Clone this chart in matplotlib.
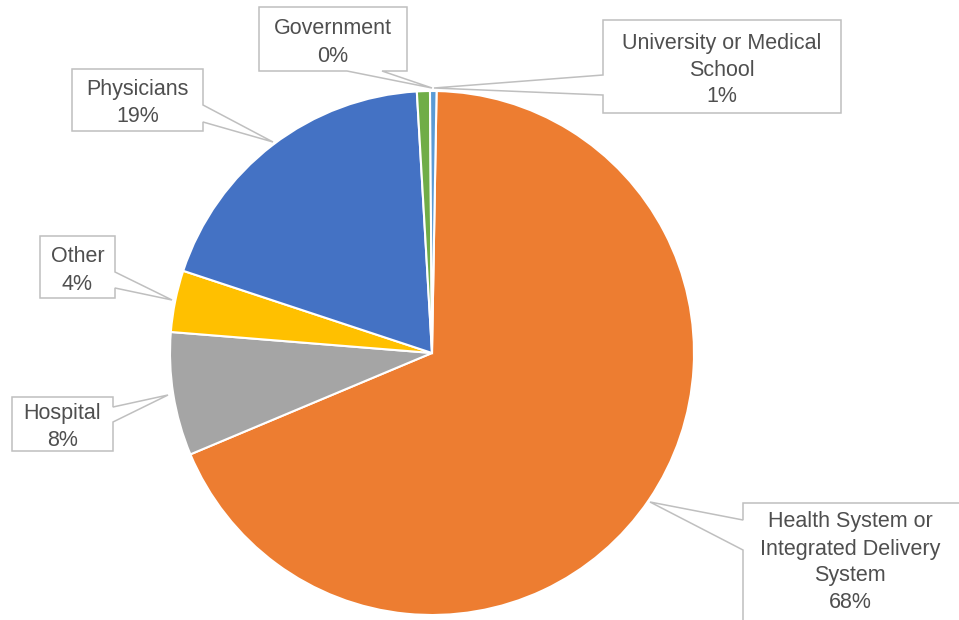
import matplotlib
matplotlib.use('Agg')
import matplotlib.pyplot as plt
from matplotlib.patches import Polygon

### DATA ###
labels = ['Health System or\nIntegrated Delivery\nSystem', 'Hospital', 'Other',
          'Physicians', 'University or Medical\nSchool', 'Government']
shares = [68.4, 7.6, 3.8, 19.0, 0.8, 0.4]
colors = ['#ED7D31', '#A5A5A5', '#FFC000', '#4472C4', '#70AD47', '#5B9BD5']

### LAYOUT (pixel coords, y from top) ###
W, H = 959, 620
CX, CY, R = 432, 353, 262
# box (x0, y0, x1, y1), wedge side, wedge span, tip
callouts = {
    'Health System or\nIntegrated Delivery\nSystem': ((743, 503, 964, 628), 'left', (520, 550), (650, 502)),
    'Hospital': ((12, 397, 113, 451), 'right', (407, 422), (168, 395)),
    'Other': ((40, 236, 115, 298), 'right', (272, 288), (172, 300)),
    'Physicians': ((72, 69, 203, 131), 'right', (105, 122), (273, 142)),
    'University or Medical\nSchool': ((603, 20, 841, 113), 'left', (75, 95), (434, 88)),
    'Government': ((259, 7, 407, 71), 'bottom', (347, 382), (432, 88)),
}
text_centers = {
    'Health System or\nIntegrated Delivery\nSystem': (850, 559),
}


def fy(y):
    # pixel y (top-down) -> data y (bottom-up)
    return H - y


def callout_poly(box, side, span, tip):
    x0, y0, x1, y1 = box
    a, b = span
    if side == 'right':
        pts = [(x0, y0), (x1, y0), (x1, a), tip, (x1, b), (x1, y1), (x0, y1)]
    elif side == 'left':
        pts = [(x0, y0), (x1, y0), (x1, y1), (x0, y1), (x0, b), tip, (x0, a)]
    else:  # bottom
        pts = [(x0, y0), (x1, y0), (x1, y1), (b, y1), tip, (a, y1), (x0, y1)]
    return [(x, fy(y)) for x, y in pts]


fig = plt.figure(figsize=(W / 100, H / 100), dpi=100)
ax = fig.add_axes([0, 0, 1, 1])

ax.pie(shares, colors=colors, startangle=89, counterclock=False,
       center=(CX, fy(CY)), radius=R,
       wedgeprops=dict(edgecolor='white', linewidth=1.5))

ax.set_xlim(0, W)
ax.set_ylim(0, H)
ax.set_aspect('equal')
ax.axis('off')

for name, share in zip(labels, shares):
    box, side, span, tip = callouts[name]
    poly = Polygon(callout_poly(box, side, span, tip), closed=True,
                   facecolor='white', edgecolor='#BFBFBF', linewidth=1.1, zorder=3)
    ax.add_patch(poly)

    lines = name.split('\n') + ['{}%'.format(round(share))]
    tx, ty = text_centers.get(name, ((box[0] + box[2]) / 2, (box[1] + box[3]) / 2))
    ty += 3.5  # va='center' sits a little high
    n = len(lines)
    for i, line in enumerate(lines):
        y = ty + (i - (n - 1) / 2) * 27
        ax.text(tx, fy(y), line, ha='center', va='center', fontsize=15.5,
                family='Liberation Sans', color='#4F4F4F', zorder=4)

plt.savefig('out.png', dpi=100)
